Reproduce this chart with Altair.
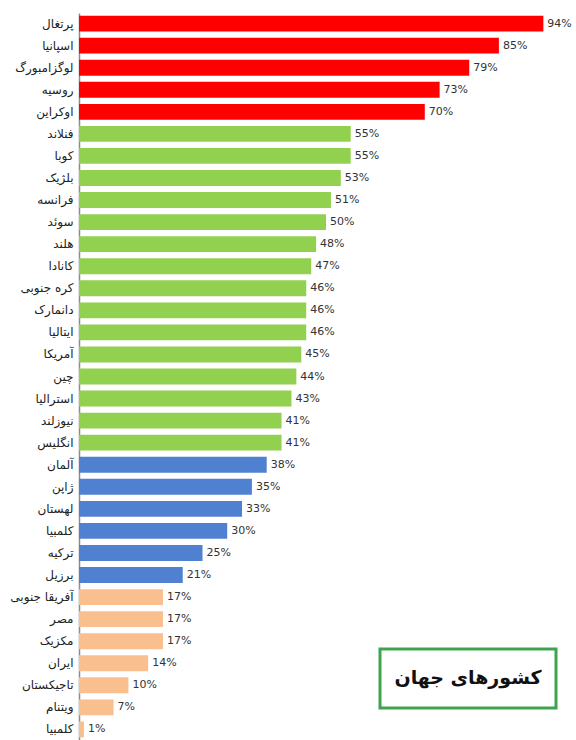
import json
import altair as alt
import pandas as pd

countries = ["پرتغال", "اسپانیا", "لوگزامبورگ", "روسیه", "اوکراین",
             "فنلاند", "کوبا", "بلژیک", "فرانسه", "سوئد", "هلند", "کانادا",
             "کره جنوبی", "دانمارک", "ایتالیا", "آمریکا", "چین", "استرالیا",
             "نیوزلند", "انگلیس",
             "آلمان", "ژاپن", "لهستان", "کلمبیا", "ترکیه", "برزیل",
             "آفریقا جنوبی", "مصر", "مکزیک", "ایران", "تاجیکستان", "ویتنام", "کلمبیا"]
values = [94, 85, 79, 73, 70,
          55, 55, 53, 51, 50, 48, 47, 46, 46, 46, 45, 44, 43, 41, 41,
          38, 35, 33, 30, 25, 21,
          17, 17, 17, 14, 10, 7, 1]
groups = ["a"] * 5 + ["b"] * 15 + ["c"] * 6 + ["d"] * 7
group_colors = ["#FF0000", "#92D050", "#4F81D0", "#F9BF8F"]
legend_title = "کشورهای جهان"

df = pd.DataFrame({
    "idx": list(range(len(countries))),
    "country": countries,
    "value": values,
    "group": groups,
    "label": [f"{v}%" for v in values],
})

label_expr = json.dumps(countries, ensure_ascii=False) + "[datum.value]"

y = alt.Y("idx:O", title=None,
          scale=alt.Scale(paddingInner=0.28, paddingOuter=0.12),
          axis=alt.Axis(labelExpr=label_expr, ticks=False, labelPadding=6,
                        labelFont="DejaVu Sans", labelFontSize=12,
                        labelColor="#222", domainColor="#8c8c8c", domainWidth=1.5))
x = alt.X("value:Q", title=None, scale=alt.Scale(domain=[0, 100], nice=False),
          axis=None)

bars = alt.Chart(df).mark_bar(cornerRadius=0).encode(
    y=y, x=x,
    color=alt.Color("group:N", scale=alt.Scale(domain=["a", "b", "c", "d"], range=group_colors),
                    legend=None),
)
text = alt.Chart(df).mark_text(align="left", baseline="middle", dx=4,
                               font="DejaVu Sans", fontSize=11, color="#333").encode(
    y=y, x=x, text="label:N")

box = alt.Chart(pd.DataFrame({"t": [legend_title]})).mark_rect(
    fill="white", stroke="#3FA34D", strokeWidth=3).encode(
    x=alt.value(301), x2=alt.value(477), y=alt.value(636), y2=alt.value(695))
box_text = alt.Chart(pd.DataFrame({"t": [legend_title]})).mark_text(
    font="DejaVu Sans", fontSize=19, fontWeight="bold", color="#111",
    align="center", baseline="middle").encode(
    x=alt.value(389), y=alt.value(665), text="t:N")

chart = alt.layer(bars, text, box, box_text).properties(
    width=494, height=727,
    background="white",
    autosize=alt.AutoSizeParams(type="none"),
    padding={"left": 79, "top": 13, "right": 3, "bottom": 0},
).configure_view(stroke=None, strokeWidth=0)

chart.save("out.html", embed_options={"renderer": "svg", "actions": False})
